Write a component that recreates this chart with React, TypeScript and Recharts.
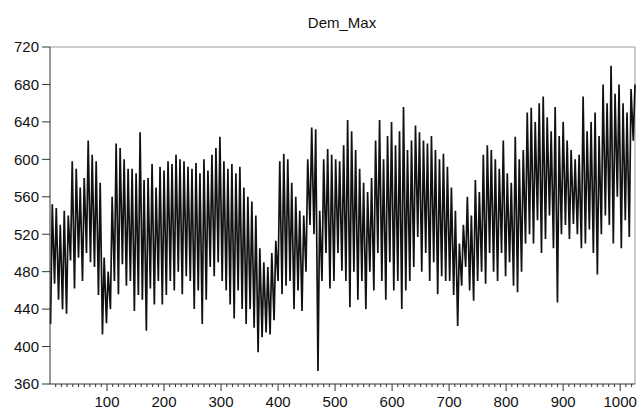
import { LineChart, Line, XAxis, YAxis, ReferenceLine } from 'recharts';

// weekly peak / weekend trough of Dem_Max (147 weeks)
const weekHighs = [
  552, 548, 530, 545, 540, 598, 590, 570, 580, 620,
  605, 598, 575, 495, 480, 560, 617, 612, 600, 590,
  590, 585, 629, 578, 580, 595, 570, 592, 588, 598,
  595, 605, 600, 598, 592, 590, 596, 585, 600, 588,
  605, 612, 624, 598, 590, 595, 585, 592, 570, 560,
  555, 540, 505, 490, 485, 500, 513, 598, 606, 600,
  575, 560, 545, 540, 600, 634, 632, 545, 600, 611,
  605, 600, 598, 615, 642, 630, 610, 590, 575, 565,
  580, 620, 642, 600, 625, 640, 615, 630, 656, 610,
  620, 636, 629, 620, 617, 625, 610, 600, 606, 592,
  570, 545, 510, 530, 560, 540, 578, 565, 605, 615,
  610, 600, 590, 620, 585, 575, 624, 600, 610, 650,
  655, 640, 660, 667, 645, 630, 656, 625, 640, 620,
  610, 600, 605, 667, 630, 640, 650, 625, 680, 660,
  700, 670, 680, 660, 650, 675, 680,
];

const weekLows = [
  424, 467, 450, 440, 435, 492, 462, 495, 470, 500,
  490, 485, 455, 413, 425, 440, 470, 456, 488, 465,
  470, 438, 455, 450, 417, 462, 445, 470, 445, 455,
  470, 460, 480, 456, 475, 470, 440, 460, 424, 450,
  485, 475, 490, 470, 460, 445, 430, 460, 440, 424,
  440, 420, 394, 410, 415, 413, 428, 470, 456, 465,
  470, 440, 460, 438, 480, 530, 520, 374, 470, 500,
  462, 470, 500, 481, 470, 442, 480, 450, 470, 440,
  480, 460, 500, 470, 450, 490, 460, 470, 440, 460,
  470, 485, 517, 480, 500, 470, 490, 456, 475, 470,
  470, 455, 422, 465, 485, 460, 449, 470, 480, 467,
  500, 480, 470, 500, 475, 490, 465, 458, 480, 510,
  520, 510, 535, 500, 515, 540, 505, 447, 520, 530,
  515, 531, 520, 505, 510, 525, 500, 477, 520, 540,
  530, 510, 560, 505, 535, 517, 620,
];

const yTicks = [360, 400, 440, 480, 520, 560, 600, 640, 680, 720];
const xLabels = [100, 200, 300, 400, 500, 600, 700, 800, 900, 1000];
const xTicks = Array.from({ length: 102 }, (_, i) => (i + 1) * 10);

const data = weekHighs.flatMap((hi, k) => [
  { obs: k * 7 + 1, dem: weekLows[k] },
  { obs: k * 7 + 4, dem: hi },
]);

const FONT = '"Liberation Sans", Arial, sans-serif';

const XTick = (props: any) => {
  const { x, y, payload } = props;
  const major = xLabels.includes(payload.value);
  return (
    <g>
      <line x1={x} x2={x} y1={y} y2={y + (major ? 7 : 3)} stroke="#333" strokeWidth={1} />
      {major && (
        <text x={x} y={y + 23} textAnchor="middle" fontSize={15} fontFamily={FONT} fill="#111">
          {payload.value}
        </text>
      )}
    </g>
  );
};

export default function App() {
  return (
    <div style={{ position: 'fixed', left: 0, top: 0, width: 637, height: 409, background: '#fff' }}>
      <div
        style={{
          position: 'absolute',
          left: 0,
          width: 684,
          top: 14,
          textAlign: 'center',
          fontFamily: FONT,
          fontSize: 15,
          color: '#111',
        }}
      >
        Dem_Max
      </div>
      <LineChart width={637} height={409} data={data} margin={{ top: 47, right: 2, bottom: 0, left: 0 }}>
        <XAxis
          dataKey="obs"
          type="number"
          domain={[0, 1026]}
          ticks={xTicks}
          interval={0}
          tickSize={0}
          tickMargin={0}
          tickLine={false}
          tick={<XTick />}
          height={25}
          stroke="#333"
        />
        <YAxis
          type="number"
          domain={[360, 720]}
          ticks={yTicks}
          interval={0}
          width={50}
          tickSize={8}
          tickMargin={3}
          stroke="#333"
          tick={{ fontSize: 15, fontFamily: FONT, fill: '#111' }}
        />
        <ReferenceLine y={720} stroke="#999" />
        <ReferenceLine x={1026} stroke="#999" />
        <Line
          type="linear"
          dataKey="dem"
          stroke="#111"
          strokeWidth={1.7}
          dot={false}
          isAnimationActive={false}
        />
      </LineChart>
    </div>
  );
}
